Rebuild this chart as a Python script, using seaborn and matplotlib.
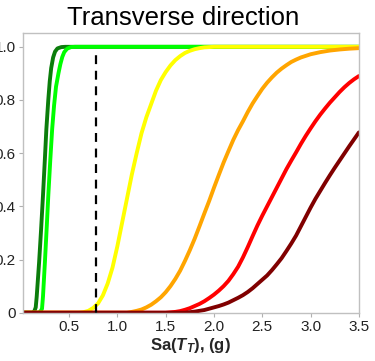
import matplotlib
matplotlib.use("Agg")
import matplotlib.pyplot as plt
import seaborn as sns
import pandas as pd

# Fragility curves: probability of exceedance vs spectral acceleration Sa(T_T)
ds1_x = [0.0, 0.125, 0.14, 0.155, 0.165, 0.19, 0.21, 0.23, 0.25, 0.265, 0.285, 0.30,
         0.315, 0.335, 0.355, 0.38, 0.42, 0.46, 3.5]
ds1_y = [0.0, 0.0, 0.005, 0.02, 0.06, 0.19, 0.31, 0.44, 0.58, 0.69, 0.80, 0.87,
         0.92, 0.96, 0.982, 0.994, 0.999, 1.0, 1.0]

ds2_x = [0.0, 0.19, 0.205, 0.22, 0.23, 0.25, 0.27, 0.285, 0.305, 0.325, 0.345, 0.365,
         0.39, 0.41, 0.43, 0.45, 0.48, 0.52, 0.56, 3.5]
ds2_y = [0.0, 0.0, 0.005, 0.015, 0.06, 0.19, 0.33, 0.44, 0.57, 0.69, 0.78, 0.85,
         0.90, 0.935, 0.962, 0.98, 0.993, 0.999, 1.0, 1.0]

ds3_x = [0.0, 0.60, 0.65, 0.70, 0.75, 0.80, 0.85, 0.90, 0.95, 1.00, 1.05, 1.10, 1.15,
         1.20, 1.25, 1.30, 1.35, 1.40, 1.45, 1.50, 1.55, 1.60, 1.65, 1.70, 1.75,
         1.80, 1.85, 1.90, 2.00, 3.5]
ds3_y = [0.0, 0.0, 0.002, 0.007, 0.018, 0.035, 0.065, 0.11, 0.17, 0.25, 0.34, 0.43, 0.52,
         0.60, 0.675, 0.735, 0.785, 0.835, 0.875, 0.905, 0.93, 0.95, 0.965, 0.977, 0.985,
         0.991, 0.995, 0.998, 1.0, 1.0]

ds4_x = [0.0, 1.10, 1.15, 1.20, 1.25, 1.30, 1.35, 1.40, 1.45, 1.50, 1.55, 1.60, 1.65,
         1.70, 1.75, 1.80, 1.85, 1.90, 1.95, 2.00, 2.05, 2.10, 2.15, 2.20, 2.25, 2.30,
         2.35, 2.40, 2.45, 2.50, 2.55, 2.60, 2.65, 2.70, 2.75, 2.80, 2.85, 2.90, 2.95,
         3.00, 3.10, 3.20, 3.30, 3.40, 3.50]
ds4_y = [0.0, 0.0, 0.003, 0.007, 0.012, 0.02, 0.03, 0.043, 0.058, 0.077, 0.10, 0.127, 0.158,
         0.195, 0.235, 0.278, 0.325, 0.373, 0.42, 0.47, 0.518, 0.565, 0.608, 0.65, 0.687, 0.72,
         0.755, 0.787, 0.815, 0.842, 0.865, 0.885, 0.903, 0.918, 0.931, 0.943, 0.952, 0.96,
         0.966, 0.972, 0.98, 0.986, 0.99, 0.993, 0.995]

ds5_x = [0.0, 1.50, 1.60, 1.65, 1.70, 1.75, 1.80, 1.85, 1.90, 1.95, 2.00, 2.05, 2.10,
         2.15, 2.20, 2.25, 2.30, 2.35, 2.40, 2.45, 2.50, 2.55, 2.60, 2.65, 2.70, 2.75,
         2.80, 2.85, 2.90, 2.95, 3.00, 3.05, 3.10, 3.15, 3.20, 3.25, 3.30, 3.35, 3.40,
         3.45, 3.50]
ds5_y = [0.0, 0.0, 0.003, 0.006, 0.011, 0.017, 0.025, 0.033, 0.043, 0.055, 0.068, 0.083, 0.10,
         0.12, 0.145, 0.173, 0.208, 0.247, 0.288, 0.328, 0.365, 0.40, 0.435, 0.47, 0.505, 0.54,
         0.572, 0.603, 0.635, 0.665, 0.693, 0.72, 0.745, 0.768, 0.79, 0.81, 0.83, 0.848, 0.864,
         0.878, 0.89]

ds6_x = [0.0, 1.70, 1.80, 1.90, 2.00, 2.05, 2.10, 2.15, 2.20, 2.25, 2.30, 2.35, 2.40,
         2.45, 2.50, 2.55, 2.60, 2.65, 2.70, 2.75, 2.80, 2.85, 2.90, 2.95, 3.00, 3.05,
         3.10, 3.15, 3.20, 3.25, 3.30, 3.35, 3.40, 3.45, 3.50]
ds6_y = [0.0, 0.0, 0.004, 0.01, 0.02, 0.025, 0.031, 0.038, 0.047, 0.056, 0.066, 0.078, 0.092,
         0.108, 0.124, 0.14, 0.16, 0.182, 0.205, 0.232, 0.26, 0.29, 0.325, 0.36, 0.395, 0.428,
         0.458, 0.488, 0.517, 0.545, 0.572, 0.599, 0.626, 0.652, 0.678]

curve_colors = ["#0b7d0b", "#00ff00", "#ffff00", "#ffa500", "#ff0000", "#800000"]

design_sa = 0.78

x_ticks = [0.5, 1.0, 1.5, 2.0, 2.5, 3.0, 3.5]
x_tick_labels = ["0.5", "1.0", "1.5", "2.0", "2.5", "3.0", "3.5"]
y_ticks = [0.0, 0.2, 0.4, 0.6, 0.8, 1.0]
y_tick_labels = ["0", "0.2", "0.4", "0.6", "0.8", "1.0"]

sns.set_style("white")
plt.rcParams["font.family"] = ["Liberation Sans", "DejaVu Sans"]
plt.rcParams["mathtext.fontset"] = "custom"
plt.rcParams["mathtext.it"] = "Liberation Sans:italic:bold"
plt.rcParams["mathtext.rm"] = "Liberation Sans:bold"

fig = plt.figure(figsize=(3.75, 3.61), dpi=100)
ax = fig.add_axes([0.0605, 0.1338, 0.8965, 0.7748])

curves = [(ds1_x, ds1_y), (ds2_x, ds2_y), (ds3_x, ds3_y),
          (ds4_x, ds4_y), (ds5_x, ds5_y), (ds6_x, ds6_y)]
for (cx, cy), col in zip(curves, curve_colors):
    df = pd.DataFrame({"sa": cx, "p": cy})
    sns.lineplot(data=df, x="sa", y="p", color=col, linewidth=2.8,
                 sort=False, estimator=None, ax=ax, solid_joinstyle="round")

ax.plot([design_sa, design_sa], [0.0, 0.99], color="black", linewidth=1.6,
        linestyle=(0, (4, 3)))

ax.set_xlim(0.02, 3.5)
ax.set_ylim(0.0, 1.052)
ax.set_xticks(x_ticks)
ax.set_xticklabels(x_tick_labels)
ax.set_yticks(y_ticks)
ax.set_yticklabels(y_tick_labels)
ax.tick_params(axis="both", which="major", length=3, width=0.8, color="#b0b0b0",
               labelsize=11, labelcolor="#222222", pad=2, direction="out")
ax.tick_params(axis="x", bottom=True)
ax.tick_params(axis="y", left=True)

for sp in ax.spines.values():
    sp.set_color("#c0c0c0")
    sp.set_linewidth(1.0)

ax.set_xlabel(r"Sa($T_T$), (g)", fontsize=12, fontweight="bold", labelpad=2)
ax.set_ylabel("")

fig.text(0.488, 0.931, "Transverse direction", ha="center", va="baseline",
         fontsize=18.5, color="black")

fig.savefig("out.png", dpi=100)
